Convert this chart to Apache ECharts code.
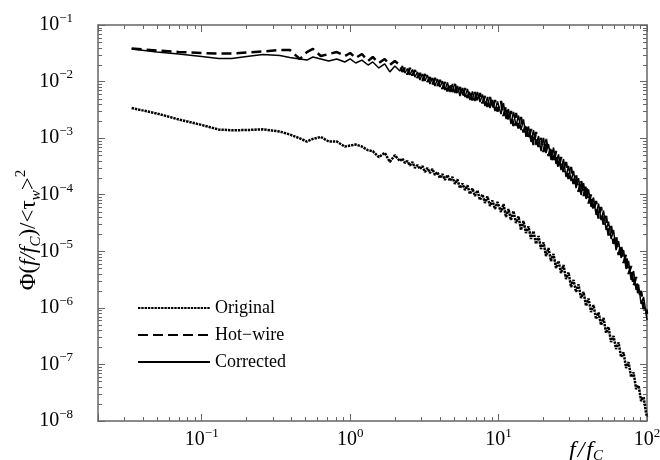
<!DOCTYPE html>
<html>
<head>
<meta charset="utf-8">
<script src="https://cdn.jsdelivr.net/npm/echarts@6/dist/echarts.min.js"></script>
<style>
html,body{margin:0;padding:0;background:#fff}
#chartmain{width:660px;height:460px}
</style>
</head>
<body>
<div id="chartmain"></div>
<script>
// frequency f/fc (shared by all three curves)
var freq = [0.0337,0.0498,0.070,0.100,0.130,0.159,0.201,0.258,0.336,0.392,0.458,0.511,0.561,0.634,0.718,0.813,0.920,1.00,1.09,1.20,
  1.32,1.42,1.56,1.71,1.85,2.00,
  2.163,2.249,2.338,2.431,2.527,2.627,2.731,2.839,2.951,3.068,3.189,3.316,3.447,3.583,3.725,3.873,4.026,4.185,4.351,4.523,
  4.702,4.889,5.082,5.283,5.492,5.710,5.935,6.171,6.415,6.668,6.933,7.206,7.492,7.788,8.096,8.417,8.750,9.096,9.456,9.831,
  10.38,10.79,11.22,11.66,12.12,12.60,13.10,13.62,14.16,14.72,15.30,15.91,16.54,17.19,17.87,18.58,19.32,20.08,20.87,21.70,
  22.56,23.45,24.38,25.34,26.35,27.39,28.47,29.60,30.77,31.99,33.26,34.57,35.94,37.37,38.84,40.38,41.98,43.64,45.37,47.17,
  49.03,50.97,52.99,55.09,57.27,59.53,61.89,64.34,66.89,69.53,72.28,75.14,78.12,81.21,84.42,87.77,91.25,94.86,98.6,100];

var original = [0.0034,0.00273,0.00214,0.00171,0.00142,0.00138,0.00139,0.00143,0.00131,0.00116,0.00099,0.00087,0.00097,0.00105,0.00087,0.00087,0.00071,0.00074,0.00077,0.00071,
  0.00061,0.00059,0.00046,0.00055,0.00038,0.00050,
  3.94e-4,4.37e-4,3.64e-4,3.94e-4,3.28e-4,3.79e-4,2.97e-4,3.35e-4,2.85e-4,3.22e-4,2.52e-4,2.97e-4,2.42e-4,2.85e-4,2.23e-4,2.52e-4,1.97e-4,2.32e-4,1.82e-4,2.23e-4,
  1.75e-4,2.06e-4,1.55e-4,1.86e-4,1.31e-4,1.58e-4,1.21e-4,1.46e-4,1.03e-4,1.29e-4,9.49e-5,1.19e-4,8.06e-5,1.01e-4,7.14e-5,9.30e-5,6.32e-5,7.90e-5,5.59e-5,7.43e-5,
  4.95e-5,6.85e-5,4.04e-5,5.59e-5,3.57e-5,5.15e-5,3.16e-5,4.12e-5,2.38e-5,3.43e-5,2.10e-5,2.74e-5,1.65e-5,2.28e-5,1.35e-5,1.86e-5,1.10e-5,1.43e-5,8.25e-6,1.14e-5,
  6.73e-6,8.95e-6,5.06e-6,6.73e-6,4.13e-6,5.72e-6,3.24e-6,4.22e-6,2.34e-6,3.11e-6,1.91e-6,2.59e-6,1.49e-6,1.91e-6,1.08e-6,1.46e-6,8.45e-7,1.12e-6,6.35e-7,8.28e-7,
  4.98e-7,6.61e-7,3.59e-7,4.59e-7,2.49e-7,3.18e-7,1.87e-7,2.44e-7,1.35e-7,1.63e-7,8.65e-8,1.10e-7,5.99e-8,7.20e-8,3.68e-8,4.24e-8,2.26e-8,2.66e-8,1.38e-8,1.18e-8];

var hotWire = [0.0385,0.0354,0.0333,0.0320,0.0313,0.0313,0.0326,0.0340,0.0361,0.0361,0.0251,0.0333,0.0377,0.0283,0.0307,0.0333,0.0283,0.0320,0.0261,0.0307,
  0.0231,0.0272,0.0213,0.0251,0.0196,0.0231,
  0.0196,0.0148,0.0174,0.0133,0.0174,0.0128,0.0160,0.0116,0.0142,0.0102,0.0136,0.00983,0.0120,0.00870,0.0116,0.00835,0.0107,0.00739,0.00983,0.00668,
  0.00943,0.00654,0.00906,0.00603,0.00802,0.00534,0.00770,0.00512,0.00710,0.00463,0.00654,0.00435,0.00628,0.00410,0.00556,0.00355,0.00534,0.00327,0.00472,0.00296,
  0.00453,0.00246,0.00370,0.00201,0.00302,0.00164,0.00278,0.00148,0.00236,0.00126,0.00178,0.000946,0.00145,0.000756,0.00128,0.000697,0.00101,0.000569,0.000966,0.000483,
  0.000697,0.000371,0.000592,0.000291,0.000464,0.000252,0.000379,0.000190,0.000309,0.000155,0.000223,0.000112,0.000182,9.49e-5,0.000149,6.99e-5,0.000103,5.26e-5,7.74e-5,3.80e-5,
  6.07e-5,2.97e-5,4.21e-5,1.90e-5,2.80e-5,1.35e-5,1.86e-5,8.60e-6,1.29e-5,6.21e-6,8.95e-6,3.97e-6,5.49e-6,2.43e-6,3.51e-6,1.59e-6,1.99e-6,9.54e-7,1.08e-6,7.79e-7];

var corrected = [0.0377,0.0333,0.0307,0.0277,0.0256,0.0256,0.0277,0.0301,0.0289,0.0266,0.0251,0.0240,0.0272,0.0251,0.0231,0.0251,0.0222,0.0251,0.0213,0.0240,
  0.0196,0.0222,0.0174,0.0205,0.0148,0.0188,
  0.0154,0.0189,0.0142,0.0170,0.0131,0.0163,0.0120,0.0148,0.0107,0.0136,0.0102,0.0131,0.00906,0.0116,0.00835,0.0111,0.00802,0.0102,0.00710,0.00963,
  0.00654,0.00906,0.00628,0.00835,0.00556,0.00770,0.00534,0.00739,0.00472,0.00668,0.00453,0.00654,0.00435,0.00591,0.00370,0.00534,0.00341,0.00472,0.00302,0.00444,
  0.00267,0.00418,0.00218,0.00327,0.00178,0.00290,0.00164,0.00251,0.00139,0.00214,0.00105,0.00161,0.000855,0.00139,0.000756,0.00109,0.000592,0.00101,0.000546,0.000788,
  0.000411,0.000683,0.000349,0.000514,0.000273,0.000428,0.000206,0.000322,0.000175,0.000263,0.000131,0.000197,9.88e-5,0.000161,8.40e-5,0.000124,6.07e-5,8.93e-5,4.38e-5,6.99e-5,
  3.57e-5,5.26e-5,2.38e-5,3.36e-5,1.65e-5,2.38e-5,1.05e-5,1.52e-5,7.61e-6,1.05e-5,4.86e-6,6.73e-6,3.11e-6,4.48e-6,2.07e-6,2.59e-6,1.17e-6,1.56e-6,7.79e-7,6.10e-7];

// ticks
var xMajor = [0.1, 1, 10, 100];
var xMinor = [0.03,0.04,0.05,0.06,0.07,0.08,0.09,0.2,0.3,0.4,0.5,0.6,0.7,0.8,0.9,
  2,3,4,5,6,7,8,9,20,30,40,50,60,70,80,90];
var yMajor = [1e-8,1e-7,1e-6,1e-5,1e-4,1e-3,1e-2,1e-1];
var mant = [2,3,4,5,6,7,8,9];
var yMinor = [];
yMajor.slice(0, 7).forEach(function (d) {
  mant.forEach(function (m) { yMinor.push(+(m * d).toPrecision(2)); });
});

var X_MIN = 0.02, X_MAX = 100, Y_MIN = 1e-8, Y_MAX = 0.1;
var FONT = 'Liberation Serif';
var AX = '#666';

function powLabel(v) {
  var e = Math.round(Math.log(v) / Math.LN10);
  return '{b|10}{s|' + (e < 0 ? '\u2212' + (-e) : e) + '}';
}
var labelRich = {
  b: {fontFamily: FONT, fontSize: 20, lineHeight: 26, color: '#000'},
  s: {fontFamily: FONT, fontSize: 13, lineHeight: 13, verticalAlign: 'top', color: '#000'}
};

function makeAxis(kind, pos, withLabels) {
  var ax = {
    type: 'log', logBase: 10,
    min: kind == 'x' ? X_MIN : Y_MIN,
    max: kind == 'x' ? X_MAX : Y_MAX,
    position: pos,
    axisLine: {show: true, onZero: false, lineStyle: {color: AX, width: 1.5}},
    axisTick: {show: true, inside: true, length: 7, lineStyle: {color: AX, width: 1}},
    axisLabel: {show: false},
    splitLine: {show: false}
  };
  if (withLabels) {
    ax.axisLabel = {
      show: true, customValues: kind == 'x' ? xMajor : yMajor, margin: kind == 'x' ? 6 : 25,
      formatter: powLabel, rich: labelRich
    };
  }
  return ax;
}

function toPairs(vals) {
  return freq.map(function (f, i) { return [f, vals[i]]; });
}

// minor ticks, placed through the axes' own scale
function px(v) { return Math.round(v) + 0.5; }
function xMinorItem(params, api) {
  var p = api.coord([api.value(0), Y_MIN]);
  var cs = params.coordSys, b = cs.y + cs.height, t = cs.y, x = px(p[0]);
  return {type: 'group', children: [
    {type: 'line', shape: {x1: x, y1: b, x2: x, y2: b - 4}, style: {stroke: AX, lineWidth: 1}},
    {type: 'line', shape: {x1: x, y1: t, x2: x, y2: t + 4}, style: {stroke: AX, lineWidth: 1}}
  ]};
}
function yMinorItem(params, api) {
  var p = api.coord([X_MIN, api.value(1)]);
  var cs = params.coordSys, l = cs.x, r = cs.x + cs.width, y = px(p[1]);
  return {type: 'group', children: [
    {type: 'line', shape: {x1: l, y1: y, x2: l + 4, y2: y}, style: {stroke: AX, lineWidth: 1}},
    {type: 'line', shape: {x1: r, y1: y, x2: r - 4, y2: y}, style: {stroke: AX, lineWidth: 1}}
  ]};
}

var xAxes = [makeAxis('x', 'bottom', true), makeAxis('x', 'top', false)];
xAxes[0].name = '{i|f}{sl|/}{i|f}{is|C}';
xAxes[0].nameLocation = 'end';
xAxes[0].nameGap = -44;
xAxes[0].nameMoveOverlap = false;
xAxes[0].nameTextStyle = {
  align: 'right', verticalAlign: 'top', padding: [17, 0, 0, 0],
  rich: {
    i: {fontFamily: FONT, fontStyle: 'italic', fontSize: 24, lineHeight: 26, color: '#000'},
    sl: {fontFamily: FONT, fontStyle: 'italic', fontSize: 24, lineHeight: 26, padding: [0, 2, 0, 2], color: '#000'},
    is: {fontFamily: FONT, fontStyle: 'italic', fontSize: 15, lineHeight: 15, verticalAlign: 'bottom', color: '#000'}
  }
};

var yAxes = [makeAxis('y', 'left', true), makeAxis('y', 'right', false)];
yAxes[0].name = '{n|\u03a6(}{i|f/f}{is|C}{n|)/<\u03c4}{is|w}{n|>}{s|2}';
yAxes[0].nameLocation = 'middle';
yAxes[0].nameGap = 54;
yAxes[0].nameMoveOverlap = false;
yAxes[0].nameTextStyle = {
  padding: [0, 14, 0, 0],
  rich: {
    n: {fontFamily: FONT, fontSize: 23, lineHeight: 30, color: '#000'},
    i: {fontFamily: FONT, fontStyle: 'italic', fontSize: 23, lineHeight: 30, color: '#000'},
    is: {fontFamily: FONT, fontStyle: 'italic', fontSize: 15, lineHeight: 15, verticalAlign: 'bottom', color: '#000'},
    s: {fontFamily: FONT, fontSize: 15, lineHeight: 15, verticalAlign: 'top', color: '#000'}
  }
};

var option = {
  animation: false,
  backgroundColor: '#fff',
  grid: {left: 98, right: 13, top: 25, bottom: 39, outerBoundsMode: 'none'},
  legend: {
    orient: 'vertical', left: 137, top: 299, padding: 0,
    itemWidth: 72, itemHeight: 14, itemGap: 9,
    itemStyle: {opacity: 0},
    textStyle: {fontFamily: FONT, fontSize: 18, color: '#000'},
    data: ['Original', 'Hot\u2212wire', 'Corrected']
  },
  xAxis: xAxes,
  yAxis: yAxes,
  series: [
    {type: 'custom', silent: true, clip: false, renderItem: xMinorItem,
      data: xMinor.map(function (v) { return [v, Y_MIN]; })},
    {type: 'custom', silent: true, clip: false, renderItem: yMinorItem,
      data: yMinor.map(function (v) { return [X_MIN, v]; })},
    {name: 'Original', type: 'line', symbol: 'none', data: toPairs(original),
      lineStyle: {color: '#000', width: 2.5, type: [2.4, 0.9]}, itemStyle: {color: '#000'}},
    {name: 'Hot\u2212wire', type: 'line', symbol: 'none', data: toPairs(hotWire),
      lineStyle: {color: '#000', width: 2.5, type: [10, 5]}, itemStyle: {color: '#000'}},
    {name: 'Corrected', type: 'line', symbol: 'none', data: toPairs(corrected),
      lineStyle: {color: '#000', width: 1.5}, itemStyle: {color: '#000'}}
  ]
};

var myChart = echarts.init(document.getElementById('chartmain'));
myChart.setOption(option);
</script>
</body>
</html>
